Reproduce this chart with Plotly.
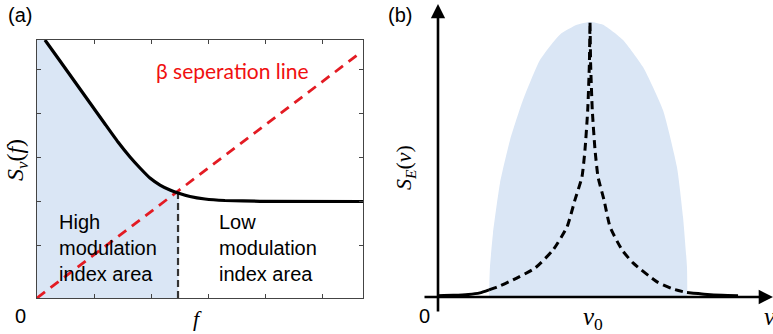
import plotly.graph_objects as go

W, H = 773, 334

# ---------- panel (a): frequency-noise PSD S_nu(f) ----------
# black PSD curve (f, S)
psd_f = [0.140, 0.404, 0.667, 0.930, 1.193, 1.421, 1.632, 1.807, 1.982, 2.158, 2.333, 2.474,
         2.684, 2.947, 3.298, 3.912, 5.720]
psd_s = [5.864, 5.386, 4.909, 4.432, 3.955, 3.545, 3.205, 2.955, 2.727, 2.568, 2.455, 2.386,
         2.307, 2.250, 2.216, 2.198, 2.193]
# beta separation line endpoints
beta_f = [0.0, 5.70]
beta_s = [0.0, 5.60]
# crossing frequency of curve and beta line
f_cross = 2.474
s_cross = 2.386
x_ticks_a = [1, 2, 3, 4, 5]
y_ticks_a = [1.2, 2.2, 3.2, 4.2, 5.2]

# ---------- panel (b): laser line shape S_E(nu) ----------
# shaded Gaussian-like envelope outline (nu, height)
env_nu = [0.336, 0.338, 0.342, 0.362, 0.408, 0.474, 0.559, 0.671, 0.803, 0.914, 1.0,
          1.086, 1.217, 1.349, 1.480, 1.572, 1.612, 1.638, 1.640]
env_h = [0.0, 0.050, 0.109, 0.233, 0.415, 0.571, 0.716, 0.862, 0.955, 0.990, 1.0,
         0.990, 0.935, 0.836, 0.680, 0.473, 0.291, 0.109, 0.0]
# Lorentzian-like line shape, left tail / core / right tail
lor_left_nu = [0.0, 0.10, 0.20, 0.276, 0.336]
lor_left_h = [0.005, 0.006, 0.009, 0.015, 0.026]
lor_core_nu = [0.336, 0.388, 0.493, 0.638, 0.757, 0.849, 0.901, 0.947, 0.967, 0.985, 0.996, 1.0,
               1.004, 1.015, 1.033, 1.053, 1.092, 1.132, 1.211, 1.283, 1.441, 1.540, 1.638]
lor_core_h = [0.026, 0.036, 0.062, 0.105, 0.171, 0.255, 0.353, 0.436, 0.535, 0.680, 0.850, 1.0,
              0.850, 0.680, 0.535, 0.436, 0.353, 0.255, 0.171, 0.124, 0.055, 0.030, 0.016]
lor_right_nu = [1.638, 1.750, 1.870, 1.974]
lor_right_h = [0.016, 0.010, 0.006, 0.005]

FILL = "#dae6f5"
RED = "#e31b23"
N_FILL = psd_f.index(f_cross) + 1

fig = go.Figure()

# shaded high-modulation-index area under the curve
fig.add_trace(go.Scatter(
    x=[0.0, 0.0] + psd_f[:N_FILL] + [f_cross],
    y=[0.0, psd_s[0]] + psd_s[:N_FILL] + [0.0],
    fill="toself", fillcolor=FILL, line=dict(width=0, shape="spline", smoothing=0.4),
    mode="lines", xaxis="x", yaxis="y", hoverinfo="skip"))
fig.add_trace(go.Scatter(
    x=[f_cross, f_cross], y=[0.0, s_cross], mode="lines",
    line=dict(color="#333333", width=2.2, dash="7px,4px"),
    xaxis="x", yaxis="y"))
fig.add_trace(go.Scatter(
    x=beta_f, y=beta_s, mode="lines",
    line=dict(color=RED, width=2.8, dash="10px,7px"),
    xaxis="x", yaxis="y"))
fig.add_trace(go.Scatter(
    x=psd_f, y=psd_s, mode="lines",
    line=dict(color="black", width=3.2, shape="spline", smoothing=0.4),
    xaxis="x", yaxis="y"))

# panel (b)
fig.add_trace(go.Scatter(
    x=env_nu, y=env_h, fill="toself", fillcolor=FILL, mode="lines",
    line=dict(width=0, shape="spline", smoothing=0.5),
    xaxis="x2", yaxis="y2", hoverinfo="skip"))
fig.add_trace(go.Scatter(
    x=lor_left_nu, y=lor_left_h, mode="lines",
    line=dict(color="black", width=3, shape="spline", smoothing=0.5), xaxis="x2", yaxis="y2"))
fig.add_trace(go.Scatter(
    x=lor_core_nu, y=lor_core_h, mode="lines",
    line=dict(color="black", width=3, dash="8px,5px", shape="spline", smoothing=0.5),
    xaxis="x2", yaxis="y2"))
fig.add_trace(go.Scatter(
    x=lor_right_nu, y=lor_right_h, mode="lines",
    line=dict(color="black", width=3, shape="spline", smoothing=0.5), xaxis="x2", yaxis="y2"))

# axis geometry
xa_l, xa_r, ya_t, ya_b = 37, 363, 40, 298
frame = dict(showline=True, mirror="ticks", linecolor="#444444", linewidth=1,
             ticks="inside", ticklen=4, tickcolor="#444444", tickwidth=1.2,
             showticklabels=False, showgrid=False, zeroline=False, fixedrange=True,
             layer="above traces")

nu_px0, nu_scale = 438, 152
h_px0, h_scale = 297, 275

fig.update_layout(
    width=W, height=H, margin=dict(l=0, r=0, t=0, b=0),
    paper_bgcolor="white", plot_bgcolor="rgba(0,0,0,0)", showlegend=False,
    xaxis=dict(domain=[xa_l / W, xa_r / W], range=[0, (xa_r - xa_l) / 57],
               tickvals=x_ticks_a, **frame),
    yaxis=dict(domain=[1 - ya_b / H, 1 - ya_t / H], range=[0, (ya_b - ya_t) / 44],
               tickvals=y_ticks_a, **frame),
    xaxis2=dict(domain=[0.5, 1.0], anchor="y2", visible=False, fixedrange=True,
                range=[(386.5 - nu_px0) / nu_scale, (W - nu_px0) / nu_scale]),
    yaxis2=dict(domain=[0.0, 1.0], anchor="x2", visible=False, fixedrange=True,
                range=[(h_px0 - H) / h_scale, h_px0 / h_scale]),
)


def px(x):
    return x / W


def py(y):
    return 1 - y / H


sans = "Liberation Sans, Arial, sans-serif"
serif = "Liberation Serif, Times New Roman, serif"

ann = []


def text(t, x, y, size, family=sans, color="black", angle=0):
    ann.append(dict(text=t, x=px(x), y=py(y), xref="paper", yref="paper",
                    showarrow=False, font=dict(size=size, family=family, color=color),
                    textangle=angle, xanchor="center", yanchor="middle"))


text("(a)", 20, 15, 20)
text("0", 20, 316, 20)
text("<i>f</i>", 197, 318, 22, serif)
text("<i>S<sub>ν</sub></i>(<i>f</i>)", 17, 160, 24, serif, angle=-90)
text("β seperation line", 232, 71, 21, "Lato, Open Sans, sans-serif", color="#f01010")

for label, x0 in [("High<br>modulation<br>index area", 57), ("Low<br>modulation<br>index area", 217)]:
    ann.append(dict(text=label, x=px(x0), y=py(248), xref="paper", yref="paper",
                    showarrow=False, xanchor="left", yanchor="middle", align="left",
                    font=dict(size=20, family=sans, color="black")))

text("(b)", 400, 15, 20)
text("0", 424, 316, 20)
text("<i>S<sub>E</sub></i>(<i>ν</i>)", 405, 168, 22, serif, angle=-90)
text("<i>ν</i><sub>0</sub>", 593, 318, 25, serif)
text("<i>ν</i>", 770, 316, 25, serif)


# arrowed axes of panel (b), in nu / height units
def nu(xp):
    return (xp - nu_px0) / nu_scale


def hh(yp):
    return (h_px0 - yp) / h_scale


ann.append(dict(x=nu(438), y=hh(4), ax=nu(438), ay=hh(313), xref="x2", yref="y2",
                axref="x2", ayref="y2", text="", showarrow=True, arrowhead=2,
                arrowsize=1.1, arrowwidth=2.6, arrowcolor="black", standoff=0))
ann.append(dict(x=nu(773), y=hh(297), ax=nu(423), ay=hh(297), xref="x2", yref="y2",
                axref="x2", ayref="y2", text="", showarrow=True, arrowhead=2,
                arrowsize=1.1, arrowwidth=2.6, arrowcolor="black", standoff=0))

fig.update_layout(annotations=ann)
fig.write_html("out.html")
